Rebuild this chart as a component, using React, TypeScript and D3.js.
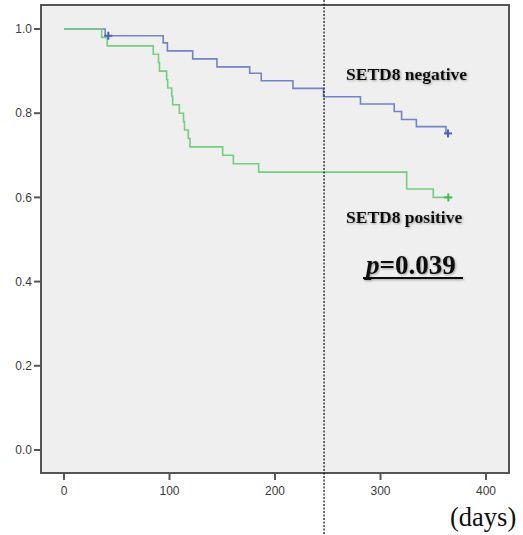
import React from "react";
import * as d3 from "d3";

// ---- data ----
const negTimes = [0, 39, 94, 98, 122, 145, 176, 187, 217, 246, 281, 313, 320, 334, 362, 364];
const negSurv = [1.0, 0.984, 0.967, 0.948, 0.929, 0.91, 0.895, 0.877, 0.859, 0.839, 0.822, 0.804, 0.785, 0.768, 0.752, 0.752];
const negCensorTimes = [42, 364];
const negCensorSurv = [0.984, 0.752];

const posTimes = [0, 35.7, 41, 84.6, 89.6, 90.5, 97.3, 98.3, 102.1, 103, 109.3, 113.3, 114.2, 117.8, 119.4, 150.4, 160.5, 184.5, 324.8, 350, 364.3];
const posSurv = [1.0, 0.98, 0.96, 0.94, 0.92, 0.9, 0.88, 0.86, 0.84, 0.82, 0.8, 0.78, 0.76, 0.74, 0.72, 0.7, 0.68, 0.66, 0.62, 0.6, 0.6];
const posCensorTimes = [364.3];
const posCensorSurv = [0.6];

const xTicks = [0, 100, 200, 300, 400];
const yTicks = [0, 0.2, 0.4, 0.6, 0.8, 1.0];
const cutoffDay = 246.5;

const labelNeg = "SETD8 negative";
const labelPos = "SETD8 positive";
const pLabel = "0.039";
const xUnit = "(days)";

export default function App() {
  const W = 523, H = 535;
  const frame = { left: 41, right: 509, top: 5, bottom: 473 };
  const x = d3.scaleLinear().domain([0, 400]).range([64, 486]);
  const y = d3.scaleLinear().domain([0, 1]).range([450, 29]);

  const line = d3
    .line<[number, number]>()
    .x((d) => x(d[0]))
    .y((d) => y(d[1]))
    .curve(d3.curveStepAfter);

  const negPath = line(negTimes.map((t, i) => [t, negSurv[i]] as [number, number])) || "";
  const posPath = line(posTimes.map((t, i) => [t, posSurv[i]] as [number, number])) || "";

  const blue = "#7383c9";
  const green = "#72cf7f";
  const blueMark = "#4d60bd";
  const greenMark = "#3fbc50";
  const axisCol = "#555555";
  const tickFont = "'Liberation Sans', Arial, sans-serif";
  const serif = "'Liberation Serif', 'Times New Roman', serif";

  const plus = (cx: number, cy: number, col: string, k: string) => (
    <g key={k} stroke={col} strokeWidth={2}>
      <line x1={cx - 4} x2={cx + 4} y1={cy} y2={cy} />
      <line x1={cx} x2={cx} y1={cy - 4} y2={cy + 4} />
    </g>
  );

  return (
    <svg
      width={W}
      height={H}
      style={{ position: "absolute", left: 0, top: 0, background: "#fff" }}
    >
      <defs>
        <filter id="sh" x="-10%" y="-20%" width="130%" height="150%">
          <feDropShadow dx="1" dy="1" stdDeviation="0.8" floodColor="#000" floodOpacity="0.35" />
        </filter>
      </defs>
      <rect
        x={frame.left}
        y={frame.top}
        width={frame.right - frame.left}
        height={frame.bottom - frame.top}
        fill="#efefef"
        stroke={axisCol}
        strokeWidth={2}
      />
      {/* y ticks */}
      {yTicks.map((t) => (
        <g key={"y" + t}>
          <line x1={34} x2={frame.left} y1={y(t)} y2={y(t)} stroke={axisCol} strokeWidth={2} />
          <text
            x={32}
            y={y(t)}
            dy="0.35em"
            textAnchor="end"
            fontFamily={tickFont}
            fontSize={12}
            fill="#3a3a3a"
          >
            {t.toFixed(1)}
          </text>
        </g>
      ))}
      {/* x ticks */}
      {xTicks.map((t) => (
        <g key={"x" + t}>
          <line x1={x(t)} x2={x(t)} y1={frame.bottom} y2={frame.bottom + 7} stroke={axisCol} strokeWidth={2} />
          <text
            x={x(t)}
            y={494.5}
            textAnchor="middle"
            fontFamily={tickFont}
            fontSize={12}
            fill="#3a3a3a"
          >
            {t}
          </text>
        </g>
      ))}
      {/* curves */}
      <path d={negPath} fill="none" stroke={blue} strokeWidth={1.6} />
      <path d={posPath} fill="none" stroke={green} strokeWidth={1.6} />
      {negCensorTimes.map((t, i) => plus(x(t), y(negCensorSurv[i]), blueMark, "nc" + i))}
      {posCensorTimes.map((t, i) => plus(x(t), y(posCensorSurv[i]), greenMark, "pc" + i))}
      {/* cutoff dotted line */}
      <line
        x1={x(cutoffDay)}
        x2={x(cutoffDay)}
        y1={0}
        y2={H}
        stroke="#111"
        strokeWidth={1.2}
        strokeDasharray="2,1.5"
      />
      {/* labels */}
      <text x={346} y={80} fontFamily={serif} fontWeight="bold" fontSize={17.5} fill="#111" filter="url(#sh)">
        {labelNeg}
      </text>
      <text x={346} y={222.5} fontFamily={serif} fontWeight="bold" fontSize={17.5} fill="#111" filter="url(#sh)">
        {labelPos}
      </text>
      <g filter="url(#sh)">
        <text x={366} y={274} fontFamily={serif} fontWeight="bold" fontSize={27} fill="#111">
          <tspan fontStyle="italic">p</tspan>
          <tspan>={pLabel}</tspan>
        </text>
        <line x1={363} x2={463} y1={278} y2={278} stroke="#111" strokeWidth={1.8} />
      </g>
      <text x={450} y={526} fontFamily={serif} fontSize={26.5} fill="#111">
        {xUnit}
      </text>
    </svg>
  );
}
